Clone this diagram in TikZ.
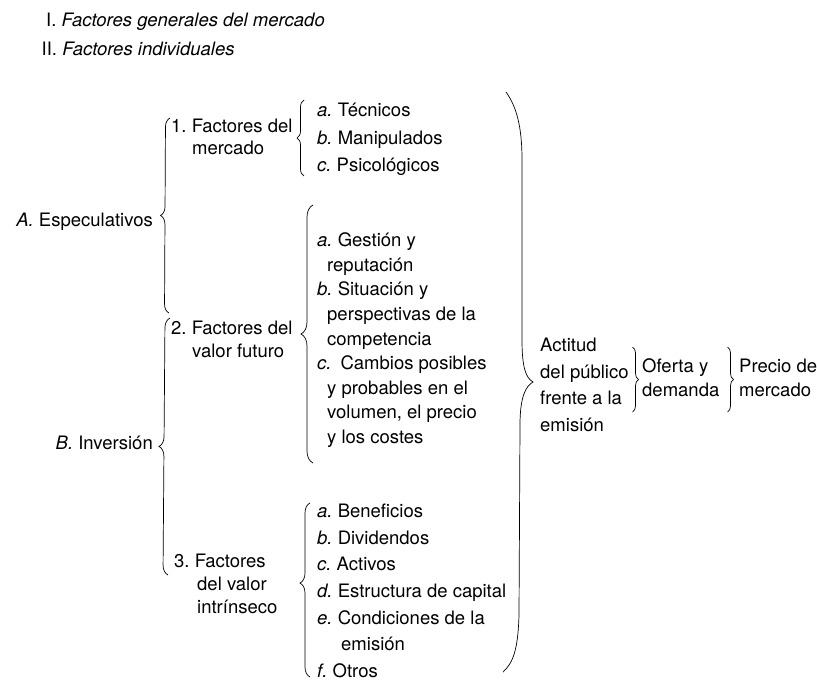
\documentclass[tikz,border=0pt]{standalone}
\usepackage{fontspec}
\setmainfont{TeX Gyre Heros}
\usetikzlibrary{decorations.pathreplacing}

\begin{document}
\frenchspacing
\begin{tikzpicture}[
    x=1pt, y=-1pt,
    every node/.style={
        inner sep=0pt,
        anchor=north west,
        align=left,
        execute at begin node={\rule{0pt}{14pt}}
    },
    txt/.style={font=\fontsize{18.5}{#1}\selectfont},
    txt/.default=24,
    brace/.style={decorate, decoration={brace, amplitude=#1}, line width=0.7pt},
    brace/.default=8pt
]
\useasboundingbox (0,0) rectangle (817,681);

% Header
\node[txt] (gen) at (46,12.7) {I. \textit{Factores generales del mercado}};
\node[txt] (ind) at (41.5,41) {II. \textit{Factores individuales}};

% Nodes
\node[txt, anchor=north east] (espec) at (153,212) {\textit{A.} Especulativos};
\node[txt, anchor=north east] (inver) at (153,435.3) {\textit{B.} Inversión};
\node[txt=22] (merc) at (171,118.7) {1. Factores del\\\hspace*{21pt}mercado};
\node[txt=22.7] (fut) at (171,321) {2. Factores del\\\hspace*{21pt}valor futuro};
\node[txt=23] (intr) at (174,554.3) {3. Factores\\\hspace*{23pt}del valor\\\hspace*{23pt}intrínseco};

\node[txt=27.5] (merc l) at (317,103.3) {\textit{a.} Técnicos\\\textit{b.} Manipulados\\\textit{c.} Psicológicos};
\node[txt=24.6] (fut l) at (317,232.7) {\textit{a.} Gestión y\\\hspace*{10pt}reputación\\\textit{b.} Situación y\\\hspace*{10pt}perspectivas de la\\\hspace*{10pt}competencia\\\textit{c.}\hspace{9pt}Cambios posibles\\\hspace*{10pt}y probables en el\\\hspace*{10pt}volumen, el precio\\\hspace*{10pt}y los costes};
\node[txt=26.7] (intr l) at (317,503.7) {\textit{a.} Beneficios\\\textit{b.} Dividendos\\\textit{c.} Activos\\\textit{d.} Estructura de capital\\\textit{e.} Condiciones de la\\\hspace*{24pt}emisión\\\textit{f.} Otros};

\node[txt=26.7] (act) at (540,337.7) {Actitud\\del público\\frente a la\\emisión};
\node[txt=24] (ofer) at (642,358.7) {Oferta y\\demanda};
\node[txt=24] (prec) at (739,358.7) {Precio de\\mercado};

% Brace ends
\coordinate (espec top) at (170,118);
\coordinate (espec bot) at (169,313);
\coordinate (inver top) at (170,318);
\coordinate (inver bot) at (168,575);
\coordinate (merc top) at (304,100);
\coordinate (merc bot) at (304,176);
\coordinate (fut top) at (313,205);
\coordinate (fut bot) at (313,463);
\coordinate (intr top) at (310,503);
\coordinate (intr bot) at (310,677);
\coordinate (act top) at (632.5,347);
\coordinate (act bot) at (632.5,412);
\coordinate (ofer top) at (727.5,347);
\coordinate (ofer bot) at (727.5,412);
\coordinate (big top) at (506,92);
\coordinate (big tip) at (533,382);
\coordinate (big bot) at (503,672);

% Braces
\draw[brace=9pt] (espec bot) -- (espec top);
\draw[brace=10pt] (inver bot) -- (inver top);
\draw[brace=7pt] (merc bot) -- (merc top);
\draw[brace=12pt] (fut bot) -- (fut top);
\draw[brace=10pt, decoration={aspect=0.54}] (intr bot) -- (intr top);
\draw[brace=6pt] (act top) -- (act bot);
\draw[brace=6pt] (ofer top) -- (ofer bot);
\draw[line width=0.7pt] (big top) .. controls (516,106) and (522,125) .. (522,160)
    -- (522,340) .. controls (522,368) and (526,378) .. (big tip)
    .. controls (526,386) and (520,396) .. (520,425)
    -- (519,615) .. controls (518,650) and (513,663) .. (big bot);

\end{tikzpicture}
\end{document}
